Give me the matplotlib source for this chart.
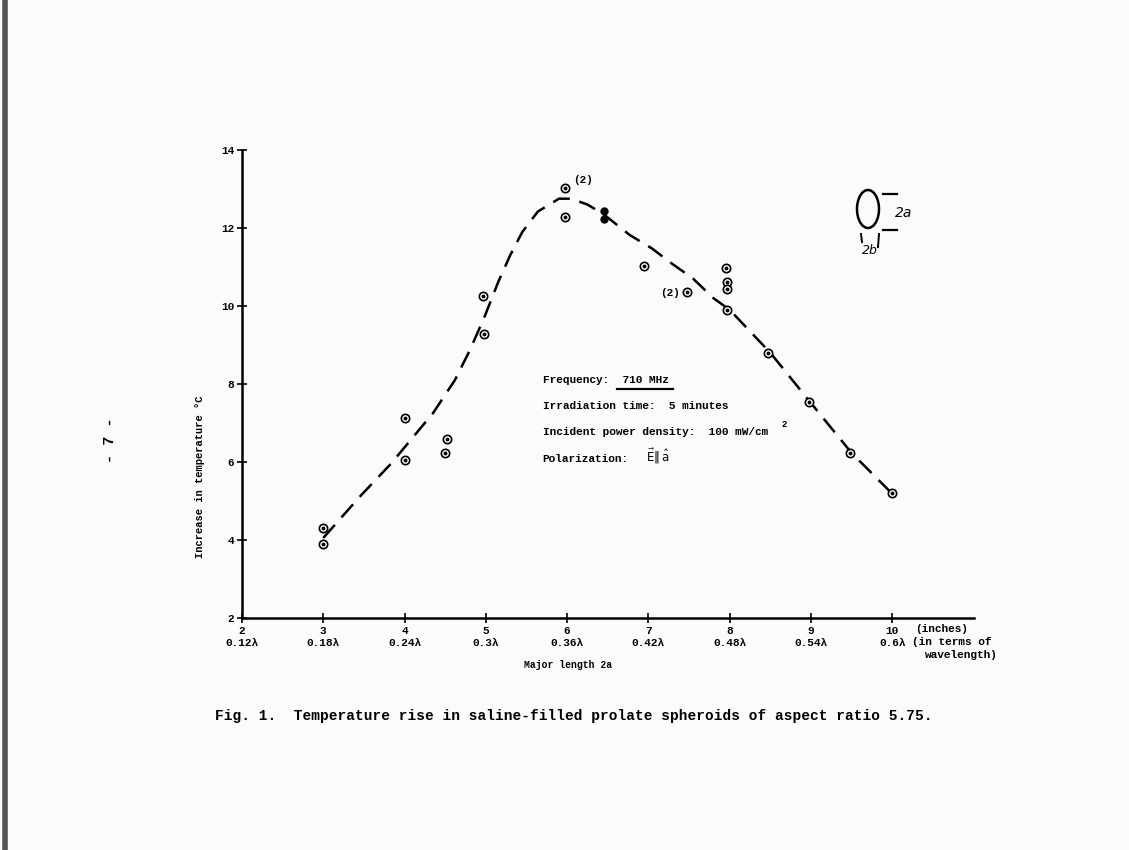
import matplotlib
matplotlib.use('agg')
import matplotlib.pyplot as plt
from matplotlib.patches import Ellipse
from matplotlib.lines import Line2D

plt.rcParams['font.family'] = ['Liberation Mono', 'DejaVu Sans Mono']
plt.rcParams['mathtext.fontset'] = 'dejavusans'

# measured points (inches, deg C)
pts_x = [3.0, 3.0, 4.0, 4.0, 4.52, 4.5, 4.96, 4.98, 5.97, 5.97,
         6.95, 7.48, 7.95, 7.97, 7.97, 7.97, 8.47, 8.98, 9.48, 10.0]
pts_y = [4.31, 3.9, 7.13, 6.05, 6.59, 6.23, 10.26, 9.28, 13.03, 12.28,
         11.03, 10.36, 10.97, 10.62, 10.43, 9.9, 8.8, 7.54, 6.23, 5.2]
solid_x = [6.45, 6.45]
solid_y = [12.44, 12.23]

# dashed fitted curve
curve_x = [3.0, 3.45, 3.84, 4.11, 4.35, 4.62, 4.8, 4.98, 5.15, 5.3, 5.45,
           5.64, 5.9, 6.05, 6.25, 6.45, 6.77, 7.04, 7.28, 7.55, 7.8, 8.0,
           8.5, 9.0, 9.5, 10.04]
curve_y = [4.05, 5.11, 5.97, 6.65, 7.25, 8.1, 8.85, 9.7, 10.6, 11.3, 11.9,
           12.42, 12.75, 12.75, 12.6, 12.35, 11.82, 11.48, 11.1, 10.7, 10.2,
           9.9, 8.8, 7.51, 6.23, 5.1]

x_ticks = [2, 3, 4, 5, 6, 7, 8, 9, 10]
x_wave = ['0.12λ', '0.18λ', '0.24λ', '0.3λ', '0.36λ', '0.42λ', '0.48λ',
          '0.54λ', '0.6λ']
y_ticks = [2, 4, 6, 8, 10, 12, 14]

fig = plt.figure(figsize=(11.29, 8.5), dpi=100, facecolor='#fbfbf9')
ax = fig.add_axes([0.2143, 0.273, 0.648, 0.5506])
ax.set_facecolor('none')
ax.set_xlim(2, 11.0)
ax.set_ylim(2, 14)
for s in ['top', 'right']:
    ax.spines[s].set_visible(False)
for s in ['left', 'bottom']:
    ax.spines[s].set_linewidth(1.8)

ax.set_xticks(x_ticks)
ax.set_xticklabels(['%d\n%s' % (t, w) for t, w in zip(x_ticks, x_wave)],
                   fontsize=8, fontweight='bold', linespacing=1.35)
ax.set_yticks(y_ticks)
ax.set_yticklabels([str(t) for t in y_ticks], fontsize=8, fontweight='bold')
ax.tick_params(direction='inout', length=7, width=1.2, pad=2)

ax.plot(curve_x, curve_y, color='black', lw=1.8, dashes=(7, 4))
ax.plot(pts_x, pts_y, 'o', ms=6, mfc='white', mec='black', mew=1.2)
ax.plot(pts_x, pts_y, 'o', ms=1.8, color='black')
ax.plot(solid_x, solid_y, 'o', ms=5, color='black')

ax.text(6.07, 13.15, '(2)', fontsize=8, fontweight='bold')
ax.text(7.14, 10.26, '(2)', fontsize=8, fontweight='bold')

# conditions block
tx = 5.7
fs = 8.0
ax.text(tx, 8.03, 'Frequency:  710 MHz', fontsize=fs, fontweight='bold')
ax.plot([6.62, 7.3], [7.88, 7.88], color='black', lw=1.6)
ax.text(tx, 7.36, 'Irradiation time:  5 minutes', fontsize=fs, fontweight='bold')
ax.text(tx, 6.68, 'Incident power density:  100 mW/cm', fontsize=fs, fontweight='bold')
ax.text(8.64, 6.9, '2', fontsize=6.5, fontweight='bold')
ax.text(tx, 6.0, 'Polarization:', fontsize=fs, fontweight='bold')
ax.text(6.97, 6.0, r'$\vec{\mathrm{E}}\Vert\,\hat{\mathrm{a}}$', fontsize=8.5)

# x-axis extras
fig.text(915 / 1129, 1 - 632 / 850, '(inches)', fontsize=8, fontweight='bold')
fig.text(912 / 1129, 1 - 645 / 850, '(in terms of', fontsize=8, fontweight='bold')
fig.text(925 / 1129, 1 - 658 / 850, 'wavelength)', fontsize=8, fontweight='bold')
fig.text(568 / 1129, 1 - 665 / 850, 'Major length 2a', fontsize=7,
         fontweight='bold', ha='center', va='center')
fig.text(200 / 1129, 1 - 477 / 850, 'Increase in temperature °C', fontsize=7.5,
         fontweight='bold', rotation=90, ha='center', va='center')
fig.text(215 / 1129, 1 - 716 / 850,
         'Fig. 1.  Temperature rise in saline-filled prolate spheroids of aspect ratio 5.75.',
         fontsize=10.48, fontweight='bold', va='center')
fig.text(110 / 1129, 1 - 440 / 850, '- 7 -', fontsize=11, fontweight='bold',
         rotation=90, ha='center', va='center')

# hand sketch of the spheroid
fig.add_artist(Ellipse((868 / 1129, 1 - 209 / 850), 22 / 1129, 38 / 850,
                       fill=False, lw=1.8, color='black'))
fig.add_artist(Line2D([883 / 1129, 897 / 1129], [1 - 194 / 850] * 2, color='black', lw=1.6))
fig.add_artist(Line2D([883 / 1129, 897 / 1129], [1 - 230 / 850] * 2, color='black', lw=1.6))
fig.add_artist(Line2D([861 / 1129, 862 / 1129], [1 - 234 / 850, 1 - 242 / 850], color='black', lw=1.4))
fig.add_artist(Line2D([879 / 1129, 878 / 1129], [1 - 234 / 850, 1 - 247 / 850], color='black', lw=1.4))
fig.text(895 / 1129, 1 - 213 / 850, '2a', fontsize=10, style='italic',
         family='DejaVu Sans', va='center')
fig.text(870 / 1129, 1 - 250 / 850, '2b', fontsize=9, style='italic',
         family='DejaVu Sans', va='center', ha='center')

# dark scan edge on the left
fig.add_artist(Line2D([0.004, 0.004], [0, 1], color='#555555', lw=4))

fig.savefig('out.png', dpi=100, facecolor=fig.get_facecolor())
